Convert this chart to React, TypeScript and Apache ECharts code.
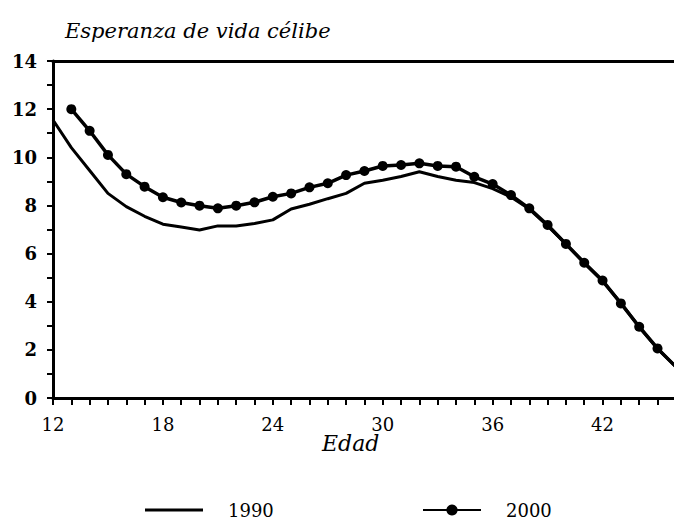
import React, { useEffect, useRef } from "react";
import * as echarts from "echarts";

const ages = [12, 13, 14, 15, 16, 17, 18, 19, 20, 21, 22, 23, 24, 25, 26, 27, 28, 29, 30, 31, 32, 33, 34, 35, 36, 37, 38, 39, 40, 41, 42, 43, 44, 45, 46];
const v1990 = [11.55, 10.4, 9.45, 8.5, 7.95, 7.55, 7.22, 7.1, 6.98, 7.15, 7.15, 7.25, 7.4, 7.85, 8.05, 8.28, 8.5, 8.92, 9.05, 9.2, 9.4, 9.2, 9.05, 8.95, 8.7, 8.35, 7.85, 7.15, 6.4, 5.6, 4.85, 3.95, 2.95, 2.05, 1.3];
const ages2000 = [13, 14, 15, 16, 17, 18, 19, 20, 21, 22, 23, 24, 25, 26, 27, 28, 29, 30, 31, 32, 33, 34, 35, 36, 37, 38, 39, 40, 41, 42, 43, 44, 45, 46];
const v2000 = [12.0, 11.1, 10.1, 9.3, 8.78, 8.34, 8.12, 7.99, 7.88, 7.99, 8.13, 8.36, 8.5, 8.75, 8.92, 9.26, 9.43, 9.64, 9.68, 9.75, 9.64, 9.61, 9.19, 8.89, 8.43, 7.88, 7.19, 6.4, 5.62, 4.88, 3.93, 2.96, 2.06, 1.3];
const seriesNames = ["1990", "2000"];
const titleText = "Esperanza de vida célibe";
const xName = "Edad";

const SERIF = "DejaVu Serif";

export default function App() {
  const ref = useRef<HTMLDivElement>(null);
  useEffect(() => {
    const chart = echarts.init(ref.current!, null, { renderer: "svg" });
    const axisLineStyle = { color: "#000", width: 3 };
    chart.setOption({
      animation: false,
      backgroundColor: "#fff",
      title: {
        text: titleText,
        left: 60,
        top: 15,
        textStyle: { fontFamily: SERIF, fontStyle: "italic", fontWeight: "normal", fontSize: 21, color: "#000" },
      },
      legend: [
        {
          data: [{ name: seriesNames[0], icon: "path://M0,0H58V3H0Z" }],
          left: 145,
          top: 501,
          padding: 0,
          itemWidth: 58,
          itemHeight: 14,
          textStyle: { fontFamily: SERIF, fontSize: 18, lineHeight: 14, color: "#000", padding: [0, 0, 0, 20] },
        },
        {
          data: [seriesNames[1]],
          left: 422,
          top: 501,
          padding: 0,
          itemWidth: 58,
          itemHeight: 14,
          textStyle: { fontFamily: SERIF, fontSize: 18, lineHeight: 14, color: "#000", padding: [0, 0, 0, 20] },
        },
      ],
      grid: { left: 53, right: 0, top: 61, bottom: 122, containLabel: false },
      xAxis: [
        {
          type: "value",
          min: 12,
          max: 45.9,
          interval: 1,
          axisLine: { show: true, lineStyle: axisLineStyle, onZero: false },
          axisTick: { show: true, length: 7, lineStyle: { color: "#000", width: 2 } },
          axisLabel: {
            margin: 17,
            fontFamily: SERIF,
            fontSize: 18,
            color: "#000",
            showMaxLabel: false,
            formatter: (v: number) => ((v - 12) % 6 === 0 ? String(v) : ""),
          },
          splitLine: { show: false },
        },
        {
          type: "value",
          position: "top",
          min: 12,
          max: 45.9,
          axisLine: { show: true, lineStyle: axisLineStyle, onZero: false },
          axisTick: { show: false },
          axisLabel: { show: false },
          splitLine: { show: false },
        },
      ],
      yAxis: {
        type: "value",
        min: 0,
        max: 14,
        interval: 1,
        axisLine: { show: true, lineStyle: axisLineStyle, onZero: false },
        axisTick: { show: true, length: 6, lineStyle: { color: "#000", width: 2 } },
        axisLabel: {
          margin: 16,
          fontFamily: SERIF,
          fontWeight: "bold",
          fontSize: 18,
          color: "#000",
          formatter: (v: number) => (v % 2 === 0 ? String(v) : ""),
        },
        splitLine: { show: false },
      },
      graphic: [
        {
          type: "text",
          left: 322,
          top: 432,
          style: { text: xName, font: `italic 22px '${SERIF}'`, fill: "#000" },
        },
      ],
      series: [
        {
          name: seriesNames[0],
          type: "line",
          data: ages.map((a, i) => [a, v1990[i]]),
          symbol: "none",
          lineStyle: { color: "#000", width: 3 },
          itemStyle: { color: "#000" },
          clip: true,
        },
        {
          name: seriesNames[1],
          type: "line",
          data: ages2000.map((a, i) => [a, v2000[i]]),
          symbol: "circle",
          symbolSize: 10,
          lineStyle: { color: "#000", width: 3.5 },
          itemStyle: { color: "#000" },
          clip: true,
        },
      ],
    });
    return () => chart.dispose();
  }, []);
  return (
    <div
      ref={ref}
      style={{ position: "fixed", left: 0, top: 0, width: 674, height: 520, background: "#fff" }}
    />
  );
}
